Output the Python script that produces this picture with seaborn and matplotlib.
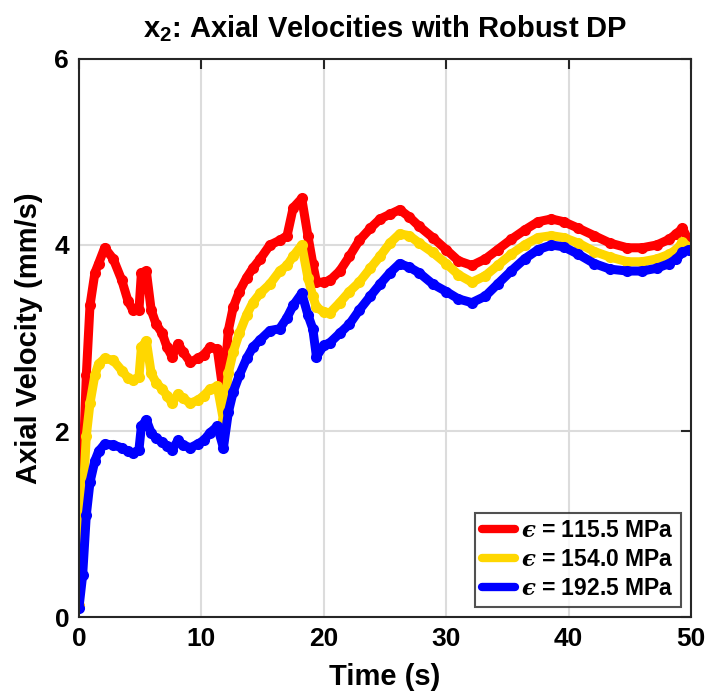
import numpy as np
import pandas as pd
import matplotlib
matplotlib.use("Agg")
import matplotlib.pyplot as plt
import seaborn as sns

# time samples (s)
time_s = [0, 0.3, 0.6, 0.9, 1.3, 1.6, 2.1, 2.8, 3.5, 4.0, 4.4, 4.9, 5.1, 5.5, 5.9,
          6.3, 6.8, 7.2, 7.6, 8.1, 8.5, 9.1, 9.7, 10.2, 10.7, 11.3, 11.8, 12.2,
          12.6, 13.1, 13.7, 14.2, 14.8, 15.6, 16.4, 17.0, 17.5, 18.2, 18.7, 19.1,
          19.4, 20.0, 20.5, 21.3, 22.1, 22.9, 23.8, 24.6, 25.4, 26.2, 27.0, 27.8,
          28.9, 30.0, 31.0, 32.1, 33.2, 34.2, 35.3, 36.4, 37.5, 38.6, 39.6, 40.8,
          42.1, 43.4, 44.8, 46.0, 47.2, 48.2, 48.8, 49.3, 49.8]

vel_115 = [0.12, 1.5, 2.6, 3.35, 3.7, 3.8, 3.97, 3.85, 3.62, 3.4, 3.3, 3.3, 3.7,
           3.72, 3.3, 3.15, 3.05, 2.9, 2.8, 2.94, 2.85, 2.74, 2.78, 2.82, 2.9, 2.88,
           2.4, 3.08, 3.33, 3.5, 3.65, 3.75, 3.85, 4.0, 4.05, 4.1, 4.4, 4.5, 4.1, 3.8,
           3.6, 3.6, 3.62, 3.72, 3.88, 4.05, 4.18, 4.28, 4.33, 4.38, 4.3, 4.2, 4.08,
           3.95, 3.83, 3.78, 3.85, 3.95, 4.06, 4.16, 4.25, 4.28, 4.25, 4.18, 4.1,
           4.02, 3.97, 3.97, 4.0, 4.06, 4.12, 4.18, 4.05]

vel_154 = [0.12, 1.2, 1.95, 2.3, 2.6, 2.72, 2.78, 2.76, 2.65, 2.57, 2.55, 2.58, 2.9,
           2.97, 2.62, 2.52, 2.45, 2.38, 2.3, 2.4, 2.35, 2.3, 2.33, 2.38, 2.45, 2.48,
           2.12, 2.62, 2.85, 3.05, 3.25, 3.38, 3.48, 3.58, 3.72, 3.78, 3.88, 4.0,
           3.65, 3.45, 3.33, 3.28, 3.27, 3.38, 3.5, 3.6, 3.75, 3.88, 4.02, 4.12, 4.1,
           4.02, 3.92, 3.8, 3.68, 3.6, 3.67, 3.78, 3.9, 4.0, 4.08, 4.1, 4.08, 4.02,
           3.93, 3.87, 3.82, 3.82, 3.85, 3.9, 3.95, 4.03, 3.98]

vel_192 = [0.1, 0.45, 1.1, 1.45, 1.68, 1.78, 1.86, 1.85, 1.82, 1.78, 1.76, 1.8, 2.05,
           2.12, 1.98, 1.92, 1.88, 1.84, 1.8, 1.9, 1.85, 1.82, 1.86, 1.9, 1.98, 2.05,
           1.82, 2.2, 2.42, 2.6, 2.78, 2.9, 2.98, 3.08, 3.1, 3.22, 3.35, 3.48, 3.25,
           3.1, 2.8, 2.92, 2.95, 3.05, 3.15, 3.3, 3.45, 3.58, 3.7, 3.8, 3.76, 3.7,
           3.58, 3.5, 3.42, 3.38, 3.45, 3.58, 3.72, 3.85, 3.95, 4.0, 3.98, 3.9, 3.8,
           3.74, 3.72, 3.72, 3.75, 3.8, 3.85, 3.92, 3.95]

series_labels = ["$\u03f5$ = 115.5 MPa", "$\u03f5$ = 154.0 MPa", "$\u03f5$ = 192.5 MPa"]
series_colors = ["#ff0000", "#ffd700", "#0000ff"]

sns.set_style("white")
plt.rcParams["font.family"] = ["Liberation Sans", "DejaVu Sans"]
plt.rcParams["font.weight"] = "bold"
plt.rcParams["text.color"] = "black"
plt.rcParams["axes.labelcolor"] = "black"
plt.rcParams["xtick.color"] = "black"
plt.rcParams["ytick.color"] = "black"
plt.rcParams["mathtext.fontset"] = "custom"
plt.rcParams["mathtext.rm"] = "Liberation Sans"
plt.rcParams["mathtext.bf"] = "Liberation Sans:bold"
plt.rcParams["mathtext.it"] = "DejaVu Serif:italic"

df = pd.concat([
    pd.DataFrame({"t": time_s, "v": vals, "case": lab})
    for vals, lab in zip([vel_115, vel_154, vel_192], series_labels)
], ignore_index=True)

fig = plt.figure(figsize=(7.07, 6.98), dpi=100)
ax = fig.add_axes([0.1117, 0.116, 0.8657, 0.7995])

sns.lineplot(data=df, x="t", y="v", hue="case", hue_order=series_labels,
             palette=series_colors, sort=False, estimator=None, lw=6.5,
             marker="o", markersize=8, markeredgewidth=0, ax=ax,
             solid_capstyle="round", solid_joinstyle="round")

ax.set_xlim(0, 50)
ax.set_ylim(0, 6)
ax.set_xticks([0, 10, 20, 30, 40, 50])
ax.set_yticks([0, 2, 4, 6])
ax.grid(True, color="#dcdcdc", lw=1.5)
ax.set_axisbelow(True)
for sp in ax.spines.values():
    sp.set_color("#262626")
    sp.set_linewidth(1.5)
ax.tick_params(direction="in", length=7, width=1.5, color="#262626",
               labelsize=19, top=True, right=True, pad=7)
for lbl in ax.get_xticklabels() + ax.get_yticklabels():
    lbl.set_fontweight("bold")

ax.set_xlabel("Time (s)", fontsize=21, fontweight="bold", labelpad=9)
ax.set_ylabel("Axial Velocity (mm/s)", fontsize=21, fontweight="bold", labelpad=8)
ax.set_title(r"x$_\mathbf{2}$: Axial Velocities with Robust DP", fontsize=21,
             fontweight="bold", pad=16)

leg = ax.legend(loc="lower right", fontsize=16.5, frameon=True, fancybox=False,
                handlelength=1.45, handletextpad=0.25, borderpad=0.3,
                labelspacing=0.25, borderaxespad=0.45)
leg.get_frame().set_edgecolor("#262626")
leg.get_frame().set_linewidth(1.5)
for line in leg.get_lines():
    line.set_linewidth(6)
    line.set_marker("")
for txt in leg.get_texts():
    txt.set_fontweight("bold")

fig.savefig("out.png", dpi=100)
